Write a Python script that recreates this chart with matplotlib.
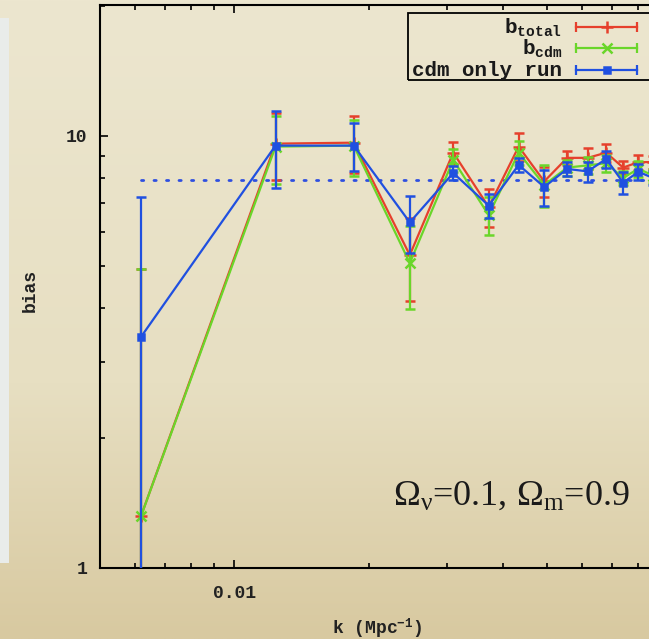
import numpy as np
import matplotlib
matplotlib.use("Agg")
import matplotlib.pyplot as plt
from matplotlib.ticker import LogLocator, NullFormatter, FixedLocator, FixedFormatter
from matplotlib.patches import Rectangle

plt.rcParams['mathtext.fontset'] = 'custom'
plt.rcParams['mathtext.rm'] = 'Liberation Serif'
plt.rcParams['mathtext.it'] = 'Liberation Serif:italic'
plt.rcParams['mathtext.tt'] = 'Liberation Mono:bold'
plt.rcParams['mathtext.sf'] = 'Liberation Mono'

# ---- data ----
k = [0.00618, 0.01236, 0.0185, 0.0247, 0.0309, 0.0371, 0.0433,
     0.0494, 0.0556, 0.0618, 0.068, 0.0742, 0.0803, 0.0865]

b_total = [1.32, 9.6, 9.65, 5.3, 9.15, 6.85, 9.45, 7.85, 8.9, 8.9, 9.15, 8.45, 8.7, 8.7]
b_total_err = [3.6, 1.7, 1.45, 1.15, 0.55, 0.7, 0.72, 0.62, 0.35, 0.5, 0.45, 0.3, 0.35, 0.3]

b_cdm = [1.32, 9.45, 9.5, 5.08, 8.8, 6.56, 9.15, 7.7, 8.45, 8.55, 8.65, 8.0, 8.4, 8.1]
b_cdm_err = [3.6, 1.7, 1.4, 1.1, 0.55, 0.66, 0.6, 0.85, 0.35, 0.4, 0.4, 0.3, 0.35, 0.3]

b_cdm_only = [3.43, 9.5, 9.5, 6.31, 8.21, 6.9, 8.57, 7.62, 8.39, 8.28, 8.85, 7.8, 8.26, 8.0]
b_cdm_only_err = [3.8, 1.93, 1.22, 0.94, 0.3, 0.43, 0.32, 0.72, 0.3, 0.44, 0.4, 0.46, 0.35, 0.3]

bias_level = 7.92
labels = [r'b$_{\mathtt{total}}$', r'b$_{\mathtt{cdm}}$', 'cdm only run']
colors = ['#e6402c', '#6ad62a', '#2050e0']

mono = 'Liberation Mono'

fig = plt.figure(figsize=(6.49, 6.39), dpi=100)

# parchment background
bg = fig.add_axes([0, 0, 1, 1], zorder=-10)
bg.axis('off')
top_c = np.array([236, 230, 207]) / 255
mid_c = np.array([231, 223, 194]) / 255
bot_c = np.array([216, 201, 160]) / 255
t = np.linspace(0, 1, 300)[:, None]
grad = np.where(t < 0.6, top_c + (mid_c - top_c) * (t / 0.6),
                mid_c + (bot_c - mid_c) * ((t - 0.6) / 0.4))
bg.imshow(grad[:, None, :].repeat(10, axis=1), aspect='auto', extent=[0, 1, 0, 1])
bg.set_xlim(0, 1); bg.set_ylim(0, 1)
bg.add_patch(Rectangle((0, (639 - 563) / 639), 9 / 649, (563 - 18) / 639,
                       facecolor='#e9ecea', edgecolor='none'))

ax = fig.add_axes([100 / 649, 71 / 639, 581 / 649, 563 / 639])
ax.set_facecolor('none')
ax.set_xscale('log')
ax.set_yscale('log')
ax.set_xlim(0.005, 0.1)
ax.set_ylim(1, 20.1)

# dotted reference level
ax.plot([k[0], 0.1], [bias_level, bias_level], color='#2f4fe0', lw=2,
        ls=(0, (0.8, 3.7)), dash_capstyle='round', zorder=2)

series = [(b_total, b_total_err, '+', 9), (b_cdm, b_cdm_err, 'x', 7),
          (b_cdm_only, b_cdm_only_err, 's', 5)]
for i, ((v, e, m, ms), c) in enumerate(zip(series, colors)):
    ax.errorbar(k, v, yerr=e, color=c, lw=1.6, elinewidth=1.6, capsize=3.5,
                capthick=1.6, marker=m, ms=ms, mew=1.8, zorder=3 + i)

# ticks
ax.xaxis.set_major_locator(FixedLocator([0.01, 0.1]))
ax.xaxis.set_major_formatter(FixedFormatter(['0.01', '']))
ax.xaxis.set_minor_locator(LogLocator(base=10, subs=np.arange(2, 10), numticks=20))
ax.xaxis.set_minor_formatter(NullFormatter())
ax.yaxis.set_major_locator(FixedLocator([1, 10]))
ax.yaxis.set_major_formatter(FixedFormatter(['1', '10']))
ax.yaxis.set_minor_locator(LogLocator(base=10, subs=np.arange(2, 10), numticks=20))
ax.yaxis.set_minor_formatter(NullFormatter())
ax.tick_params(which='both', direction='in', top=True, right=True, width=1.2)
ax.tick_params(which='major', length=6)
ax.tick_params(which='minor', length=3.5)
ax.tick_params(axis='x', which='major', pad=12, labelsize=13)
ax.tick_params(axis='y', which='major', pad=9, labelsize=13)
for lab in ax.get_xticklabels() + ax.get_yticklabels():
    lab.set_fontfamily(mono)
    lab.set_fontweight('bold')
    lab.set_color('#222222')
for s in ax.spines.values():
    s.set_linewidth(1.5)

fig.text(30 / 649, 1 - 290 / 639, 'bias', rotation=90, ha='center', va='center',
         fontsize=13, family=mono, weight='bold', color='#222222')
fig.text(377 / 649, 1 - 628 / 639, r'k (Mpc$^{\mathtt{-1}}$)', ha='center', va='center',
         fontsize=13, family=mono, weight='bold', color='#222222')

ax.text((393 - 100) / 581, (568 - 505) / 563,
        r'$\Omega_{\mathrm{\nu}}$=0.1, $\Omega_{\mathrm{m}}$=0.9', transform=ax.transAxes,
        ha='left', va='baseline', fontsize=26, family='Liberation Serif', color='#1a1a1a')

# legend (gnuplot style, drawn in axes fraction)
ax.add_patch(Rectangle(((408 - 100) / 581, (568 - 80) / 563), (676 - 408) / 581,
                       (80 - 13) / 563, transform=ax.transAxes, facecolor='none',
                       edgecolor='black', lw=1.3, clip_on=False, zorder=10))
rows = [27, 48, 70]
mk = ['+', 'x', 's']
mks = [9, 7, 5]
for lab, c, yy, m, s in zip(labels, colors, rows, mk, mks):
    ya = (568 - yy) / 563
    ax.text((562 - 100) / 581, ya, lab, transform=ax.transAxes, ha='right',
            va='center', fontsize=15, family=mono, weight='bold', color='#1a1a1a',
            zorder=11)
    x0, x1, xm = (576 - 100) / 581, (637 - 100) / 581, (607 - 100) / 581
    ax.plot([x0, x1], [ya, ya], color=c, lw=1.6, transform=ax.transAxes,
            clip_on=False, zorder=11)
    ax.plot([x0, x1], [ya, ya], ls='none', marker='|', ms=7, mew=1.6, color=c,
            transform=ax.transAxes, clip_on=False, zorder=11)
    ax.plot([xm], [ya], ls='none', marker=m, ms=s, mew=1.8, color=c,
            transform=ax.transAxes, clip_on=False, zorder=11)

fig.savefig('out.png', dpi=100)
